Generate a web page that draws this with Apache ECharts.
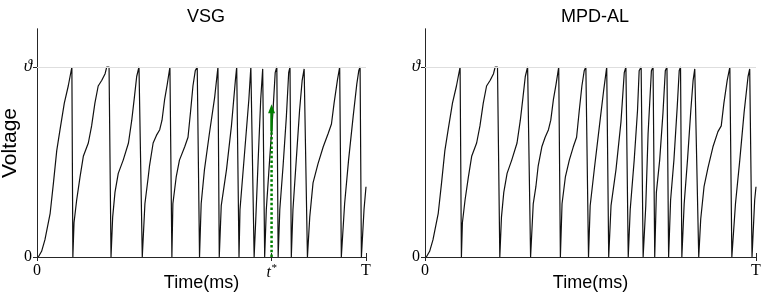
<!DOCTYPE html>
<html>
<head>
<meta charset="utf-8">
<script src="https://cdn.jsdelivr.net/npm/echarts@6/dist/echarts.min.js"></script>
<style>
  html, body { margin: 0; padding: 0; background: #fff; }
  #chart { width: 765px; height: 299px; }
</style>
</head>
<body>
<div id="chart"></div>
<script>
  // time in % of T, voltage as fraction of threshold (1 = theta)
  const panelTitles = ['VSG', 'MPD-AL']
  const tStar = 71.3
  const arrowBase = 0.66
  const arrowTip = 0.78
  const theta = 1

  const vsgTrace = [
    [0.4, 0], [1.4, 0.03], [2.4, 0.09], [4.0, 0.23], [5.0, 0.39], [6.0, 0.56], [7.0, 0.67], [8.3, 0.81], [9.5, 0.90], [10.6, 1], [10.9, 0],
    [11.25, 0.18], [12.06, 0.30], [13.07, 0.42], [14.08, 0.53], [15.6, 0.60], [16.6, 0.69], [17.6, 0.81], [18.6, 0.90], [19.7, 0.93], [20.7, 0.965], [21.2, 1], [21.9, 1], [22.5, 0],
    [22.7, 0], [23.0, 0.21], [23.7, 0.34], [24.7, 0.44], [26.2, 0.51], [27.8, 0.60], [28.8, 0.72], [29.6, 0.84], [30.3, 0.95], [31.0, 1], [31.6, 1], [32.0, 0],
    [32.2, 0], [32.8, 0.28], [33.8, 0.42], [34.2, 0.48], [35.3, 0.60], [36.3, 0.64], [37.3, 0.67], [38.0, 0.72], [38.8, 0.83], [39.6, 0.91], [40.4, 1], [41.0, 0],
    [41.2, 0], [41.3, 0.28], [42.3, 0.42], [43.3, 0.51], [44.9, 0.58], [45.9, 0.63], [46.7, 0.77], [47.4, 0.90], [48.1, 0.98], [48.7, 1], [49.4, 0],
    [49.6, 0], [49.9, 0.28], [50.9, 0.46], [52.4, 0.65], [54.0, 0.84], [55.0, 1], [55.4, 0],
    [55.5, 0], [56.0, 0.27], [57.6, 0.46], [59.1, 0.69], [60.3, 0.93], [60.7, 1], [61.0, 1], [61.4, 0],
    [61.5, 0], [61.7, 0.25], [63.1, 0.55], [64.4, 0.83], [65.0, 1], [65.4, 1], [66.0, 0],
    [66.2, 0], [66.5, 0.2], [67.2, 0.5], [68.0, 0.83], [68.6, 0.99], [68.9, 1], [69.2, 0],
    [69.4, 0], [69.7, 0.25], [70.7, 0.51], [71.7, 0.76], [72.4, 0.97], [72.9, 1], [73.3, 0],
    [73.5, 0], [73.8, 0.25], [74.8, 0.48], [75.8, 0.74], [76.5, 0.97], [76.9, 1], [77.3, 0],
    [77.5, 0], [77.8, 0.25], [78.8, 0.51], [79.8, 0.77], [80.6, 0.93], [81.2, 0.99], [81.7, 1], [82.2, 0],
    [82.4, 0], [82.9, 0.21], [83.9, 0.39], [85.4, 0.49], [87.0, 0.58], [88.5, 0.65], [89.5, 0.70], [90.3, 0.81], [91.3, 0.93], [92.0, 1], [92.5, 0],
    [92.8, 0], [93.5, 0.28], [94.7, 0.51], [96.1, 0.74], [97.2, 0.91], [97.8, 0.98], [98.2, 1], [98.6, 0],
    [98.8, 0], [99.4, 0.25], [100, 0.37]
  ]

  const mpdTrace = [
    [0.4, 0], [1.4, 0.03], [2.4, 0.09], [4.0, 0.23], [5.0, 0.39], [6.0, 0.56], [7.0, 0.67], [8.3, 0.81], [9.5, 0.90], [10.6, 1], [11.0, 0],
    [11.3, 0.18], [12.1, 0.30], [13.1, 0.42], [14.1, 0.53], [15.6, 0.60], [16.6, 0.69], [17.6, 0.81], [18.6, 0.90], [19.7, 0.93], [20.7, 0.965], [21.2, 1], [21.9, 1], [22.6, 0],
    [22.8, 0], [23.1, 0.21], [23.8, 0.34], [24.8, 0.44], [26.2, 0.51], [27.8, 0.60], [28.8, 0.72], [29.6, 0.84], [30.3, 0.95], [31.0, 1], [31.5, 1], [31.9, 0],
    [32.1, 0], [32.7, 0.28], [33.5, 0.37], [34.2, 0.48], [35.3, 0.58], [36.3, 0.63], [37.3, 0.67], [38.0, 0.72], [38.8, 0.83], [39.6, 0.91], [40.4, 1], [40.9, 0],
    [41.1, 0], [41.4, 0.28], [42.4, 0.42], [43.6, 0.51], [44.8, 0.58], [45.8, 0.63], [46.6, 0.77], [47.4, 0.90], [48.1, 0.98], [48.6, 1], [49.4, 0],
    [49.6, 0], [49.9, 0.27], [51.2, 0.47], [52.7, 0.69], [54.0, 0.88], [54.9, 1], [55.5, 0],
    [55.7, 0], [56.2, 0.27], [57.7, 0.46], [59.2, 0.71], [60.2, 0.97], [60.7, 1], [61.4, 0],
    [61.6, 0], [62.0, 0.25], [63.2, 0.51], [64.2, 0.77], [64.7, 0.98], [65.3, 1], [65.9, 0],
    [66.1, 0], [66.7, 0.27], [67.4, 0.65], [68.4, 0.98], [68.9, 1], [69.4, 0],
    [69.6, 0], [69.9, 0.34], [70.9, 0.51], [71.9, 0.76], [72.6, 0.98], [73.1, 1], [73.6, 0],
    [73.8, 0], [74.2, 0.30], [75.2, 0.51], [76.2, 0.79], [76.8, 0.98], [77.2, 1], [77.6, 0],
    [77.9, 0], [78.3, 0.28], [79.3, 0.51], [80.3, 0.77], [81.0, 0.93], [81.5, 0.99], [82.0, 1], [82.7, 0],
    [82.9, 0], [83.3, 0.2], [84.3, 0.37], [85.5, 0.47], [87.0, 0.58], [88.5, 0.66], [89.5, 0.69], [90.3, 0.81], [91.3, 0.93], [92.1, 1], [92.7, 0],
    [93.1, 0], [93.8, 0.28], [95.1, 0.51], [96.4, 0.76], [97.6, 0.95], [98.1, 0.99], [98.4, 1], [98.8, 0],
    [99.1, 0], [99.6, 0.30], [100, 0.37]
  ]

  const xTicks = [[0, tStar, 100], [0, 100]]
  const yTicks = [0, theta]

  const chart = echarts.init(document.getElementById('chart'), null, {renderer: 'canvas'})

  const axisColor = '#262626'
  const serif = 'Liberation Serif, DejaVu Serif, serif'
  const sans = 'Liberation Sans, Arial, sans-serif'

  function xLabel(v) {
    if (Math.abs(v) < 0.01) return '0'
    if (Math.abs(v - 100) < 0.01) return 'T'
    return '{it|t}{sup|*}'
  }
  function yLabel(v) {
    return Math.abs(v) < 0.01 ? '0' : '{th|ϑ}'
  }
  const richText = {
    it: {fontFamily: serif, fontStyle: 'italic', fontSize: 16, color: '#000'},
    th: {fontFamily: serif, fontStyle: 'italic', fontSize: 17, color: '#000'},
    sup: {fontFamily: serif, fontStyle: 'italic', fontSize: 11, color: '#000', verticalAlign: 'top', padding: [0, 0, 8, 0]}
  }

  const xAxis = []
  const yAxis = []
  const grids = [
    {left: 37, right: 399, top: 29, bottom: 42, containLabel: false, outerBoundsMode: 'none'},
    {left: 425, right: 9, top: 29, bottom: 42, containLabel: false, outerBoundsMode: 'none'}
  ]
  grids.forEach((g, i) => {
    xAxis.push({
      type: 'value', gridIndex: i, min: 0, max: 100,
      name: 'Time(ms)', nameLocation: 'middle', nameGap: 17, nameMoveOverlap: false,
      nameTextStyle: {fontFamily: sans, fontSize: 18, color: '#000'},
      axisLine: {show: true, lineStyle: {color: axisColor, width: 1}},
      axisTick: {show: true, inside: true, length: 4, customValues: xTicks[i], lineStyle: {color: axisColor}},
      axisLabel: {show: true, customValues: xTicks[i], formatter: xLabel, margin: 6,
        fontFamily: serif, fontSize: 16, color: '#000', rich: richText},
      splitLine: {show: false}
    })
    xAxis.push({
      type: 'value', gridIndex: i, min: 0, max: 100, position: 'top',
      axisLine: {show: true, lineStyle: {color: axisColor, width: 1}},
      axisTick: {show: true, inside: true, length: 4, customValues: xTicks[i], lineStyle: {color: axisColor}},
      axisLabel: {show: false},
      splitLine: {show: false}
    })
    yAxis.push({
      type: 'value', gridIndex: i, min: 0, max: 1.2,
      name: i === 0 ? 'Voltage' : '', nameLocation: 'middle', nameGap: 16, nameMoveOverlap: false,
      nameTextStyle: {fontFamily: sans, fontSize: 21, color: '#000'},
      axisLine: {show: true, lineStyle: {color: axisColor, width: 1}},
      axisTick: {show: true, inside: true, length: 4, customValues: yTicks, lineStyle: {color: axisColor}},
      axisLabel: {show: true, customValues: yTicks, formatter: yLabel, margin: 5,
        fontFamily: serif, fontSize: 16, color: '#000', rich: richText},
      splitLine: {show: false}
    })
    yAxis.push({
      type: 'value', gridIndex: i, min: 0, max: 1.2, position: 'right',
      axisLine: {show: true, lineStyle: {color: axisColor, width: 1}},
      axisTick: {show: true, inside: true, length: 4, customValues: yTicks, lineStyle: {color: axisColor}},
      axisLabel: {show: false},
      splitLine: {show: false}
    })
  })

  function traceSeries(idx, data) {
    return {
      type: 'line', xAxisIndex: idx * 2, yAxisIndex: idx * 2,
      data: data, symbol: 'none', smooth: false,
      lineStyle: {color: '#111', width: 1.2},
      silent: true, z: 3,
      markLine: {
        silent: true, symbol: ['none', 'none'], label: {show: false},
        lineStyle: {color: '#dedede', width: 1, type: 'solid'},
        data: [{yAxis: theta}]
      }
    }
  }

  chart.setOption({
    animation: false,
    title: panelTitles.map((t, i) => ({
      text: t, left: i === 0 ? 201 : 590, top: 3, textAlign: 'center',
      textStyle: {fontFamily: sans, fontSize: 18, fontWeight: 'normal', color: '#000'}
    })),
    grid: grids,
    xAxis: xAxis,
    yAxis: yAxis,
    series: [
      traceSeries(0, vsgTrace),
      traceSeries(1, mpdTrace),
      {
        // dotted green line up to the spike at t*
        type: 'line', xAxisIndex: 0, yAxisIndex: 0,
        data: [[tStar, 0], [tStar, arrowBase]],
        symbol: 'none', silent: true, z: 4,
        lineStyle: {color: '#007f00', width: 2.5, type: [2.5, 2.2]}
      },
      {
        type: 'line', xAxisIndex: 0, yAxisIndex: 0,
        data: [], symbol: 'none', silent: true, z: 4,
        markLine: {
          silent: true, symbol: ['none', 'triangle'], symbolSize: [7, 9],
          label: {show: false},
          lineStyle: {color: '#007f00', width: 2.5, type: 'solid'},
          data: [[{coord: [tStar, arrowBase]}, {coord: [tStar, arrowTip]}]]
        }
      }
    ]
  })
</script>
</body>
</html>
